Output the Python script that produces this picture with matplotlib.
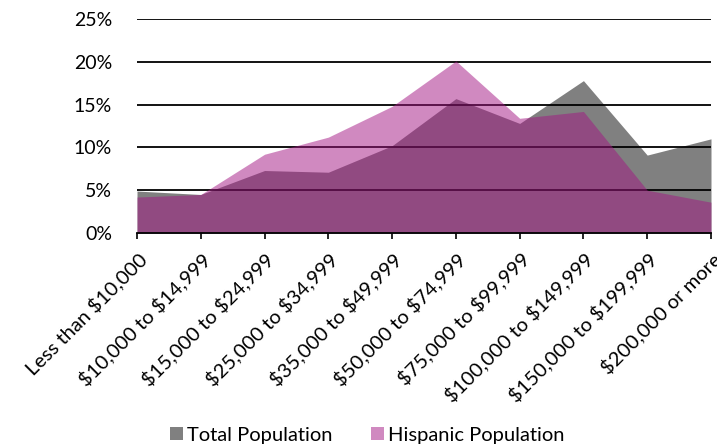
import matplotlib
matplotlib.use('Agg')
import matplotlib.pyplot as plt
import numpy as np
from matplotlib.ticker import PercentFormatter

plt.rcParams['font.family'] = ['Lato', 'DejaVu Sans']
plt.rcParams['text.parse_math'] = False

income_bins = ['Less than $10,000', '$10,000 to $14,999', '$15,000 to $24,999',
               '$25,000 to $34,999', '$35,000 to $49,999', '$50,000 to $74,999',
               '$75,000 to $99,999', '$100,000 to $149,999', '$150,000 to $199,999',
               '$200,000 or more']
total_pct = [4.9, 4.5, 7.3, 7.1, 10.2, 15.7, 12.8, 17.8, 9.1, 11.0]
hispanic_pct = [4.2, 4.5, 9.2, 11.2, 14.8, 20.1, 13.4, 14.2, 5.0, 3.6]

x = np.arange(len(income_bins))

fig = plt.figure(figsize=(7.17, 4.47), dpi=100)
ax = fig.add_axes([137 / 717, 1 - 233 / 447, (711 - 137) / 717, (233 - 19) / 447])

# gray area first, gridlines over it, translucent purple on top
ax.fill_between(x, 0, total_pct, color='#808080', linewidth=0, zorder=1,
                label='Total Population')
for v in range(5, 30, 5):
    ax.axhline(v, color='black', linewidth=1.3, zorder=2)
ax.fill_between(x, 0, hispanic_pct, color=(163 / 255, 21 / 255, 131 / 255),
                alpha=0.5, linewidth=0, zorder=3, label='Hispanic Population')

ax.set_xlim(0, len(income_bins) - 1)
ax.set_ylim(0, 25)
ax.set_yticks(range(0, 30, 5))
ax.yaxis.set_major_formatter(PercentFormatter(decimals=0))
ax.set_xticks(x)
ax.set_xticklabels(income_bins, rotation=45, ha='right', va='top',
                   rotation_mode='anchor')

for side in ['left', 'right', 'top']:
    ax.spines[side].set_visible(False)
ax.spines['bottom'].set_color('black')
ax.spines['bottom'].set_linewidth(1.3)
ax.spines['bottom'].set_zorder(4)
ax.tick_params(axis='y', length=0, pad=18, labelsize=14)
ax.tick_params(axis='x', length=4, width=1.2, direction='out', pad=8, labelsize=14.5)

fig.legend(loc='center', bbox_to_anchor=(367 / 717, 1 - 435 / 447), ncol=2,
           frameon=False, fontsize=14.5, handlelength=0.65, handleheight=0.65,
           handletextpad=0.2, columnspacing=1.9)

fig.savefig('out.png', dpi=100)
